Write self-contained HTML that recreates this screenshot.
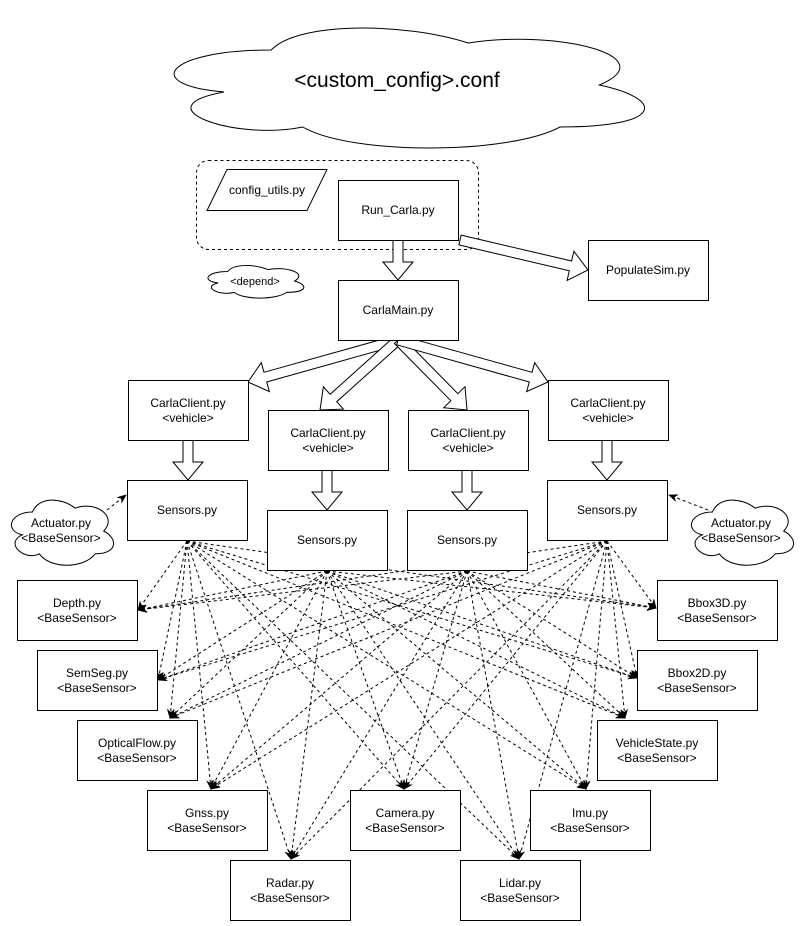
<!DOCTYPE html>
<html><head><meta charset="utf-8"><style>
html,body{margin:0;padding:0;background:#fff;}
svg text{font-family:"Liberation Sans",Arial,sans-serif;font-size:12px;fill:#000;}
</style></head><body>
<svg id="s" width="801" height="921" viewBox="0 0 801 921" xmlns="http://www.w3.org/2000/svg">
<defs><marker id="ah" markerWidth="10" markerHeight="10" refX="9" refY="5" orient="auto" markerUnits="userSpaceOnUse"><path d="M0,1 L10,5 L0,9 L3,5 Z" fill="#000"/></marker></defs>
<g id="g"></g>
</svg>
<script>
var g=document.getElementById('g'),out='';
function cloud(x,y,w,h){var p=function(a,b){return (x+a*w)+','+(y+b*h);};
out+='<path d="M'+p(.25,.25)+' C'+p(.05,.25)+' '+p(0,.5)+' '+p(.16,.55)+' C'+p(0,.66)+' '+p(.18,.9)+' '+p(.31,.8)+' C'+p(.4,1)+' '+p(.7,1)+' '+p(.8,.8)+' C'+p(1,.8)+' '+p(1,.6)+' '+p(.875,.5)+' C'+p(1,.3)+' '+p(.8,.1)+' '+p(.625,.2)+' C'+p(.5,.05)+' '+p(.3,.05)+' '+p(.25,.25)+' Z" fill="#fff" stroke="#000" stroke-width="1"/>';}
function box(x,y,w,h,t1,t2){out+='<rect x="'+(x+.5)+'" y="'+(y+.5)+'" width="'+w+'" height="'+h+'" fill="#fff" stroke="#000"/>';
if(t2){out+='<text x="'+(x+w/2)+'" y="'+(y+h/2-3)+'" text-anchor="middle">'+t1+'</text><text x="'+(x+w/2)+'" y="'+(y+h/2+12)+'" text-anchor="middle">'+t2+'</text>';}
else out+='<text x="'+(x+w/2)+'" y="'+(y+h/2+4)+'" text-anchor="middle">'+t1+'</text>';}
function barrow(x1,y1,x2,y2){var dx=x2-x1,dy=y2-y1,L=Math.sqrt(dx*dx+dy*dy),ux=dx/L,uy=dy/L,nx=-uy,ny=ux,sw=5,hw=15,hl=18;
var bx=x2-ux*hl,by=y2-uy*hl;var pts=[[x1+nx*sw,y1+ny*sw],[bx+nx*sw,by+ny*sw],[bx+nx*hw,by+ny*hw],[x2,y2],[bx-nx*hw,by-ny*hw],[bx-nx*sw,by-ny*sw],[x1-nx*sw,y1-ny*sw]];
out+='<polygon points="'+pts.map(function(q){return q[0].toFixed(1)+','+q[1].toFixed(1)}).join(' ')+'" fill="#fff" stroke="#000"/>';}
function dash(x1,y1,x2,y2){out+='<line x1="'+x1+'" y1="'+y1+'" x2="'+x2+'" y2="'+y2+'" stroke="#000" stroke-dasharray="3,3" marker-end="url(#ah)"/>';}

cloud(140,15,525,140);
out+='<text x="397" y="87" text-anchor="middle" style="font-size:21px">&lt;custom_config&gt;.conf</text>';
out+='<rect x="196.5" y="160.5" width="282" height="89" rx="12" fill="none" stroke="#000" stroke-dasharray="3,3"/>';
out+='<polygon points="227,169.5 327,169.5 307,210.5 207,210.5" fill="#fff" stroke="#000"/><text x="267" y="194" text-anchor="middle">config_utils.py</text>';
cloud(201,262,107,38);out+='<text x="255" y="285" text-anchor="middle" style="font-size:11px">&lt;depend&gt;</text>';

barrow(398,240,398,280);
barrow(460,240,588,270);
barrow(398,340,248,382);
barrow(398,340,320,410);
barrow(398,340,467,410);
barrow(398,340,548,382);
barrow(188,440,188,480);barrow(327,470,327,510);barrow(467,470,467,510);barrow(607,440,607,480);

box(338,180,120,60,'Run_Carla.py');
box(588,240,120,60,'PopulateSim.py');
box(338,280,120,60,'CarlaMain.py');
box(128,380,120,60,'CarlaClient.py','&lt;vehicle&gt;');
box(268,410,120,60,'CarlaClient.py','&lt;vehicle&gt;');
box(408,410,120,60,'CarlaClient.py','&lt;vehicle&gt;');
box(548,380,120,60,'CarlaClient.py','&lt;vehicle&gt;');

var src=[[187,541],[327,571],[467,571],[607,541]];
var tg=[[138,610],[158,680],[170,718],[211,789],[291,859],[404,789],[519,859],[586,789],[625,718],[637,678],[656,608]];
src.forEach(function(s){tg.forEach(function(t){dash(s[0],s[1],t[0],t[1]);});});
cloud(4,493,114,76);out+='<text x="61" y="527" text-anchor="middle">Actuator.py</text><text x="61" y="542" text-anchor="middle">&lt;BaseSensor&gt;</text>';
cloud(684,493,114,76);out+='<text x="741" y="527" text-anchor="middle">Actuator.py</text><text x="741" y="542" text-anchor="middle">&lt;BaseSensor&gt;</text>';
dash(107,510,126,495);dash(708,510,669,495);

box(127,480,120,60,'Sensors.py');box(267,510,120,60,'Sensors.py');box(407,510,120,60,'Sensors.py');box(547,480,120,60,'Sensors.py');
box(17,580,120,60,'Depth.py','&lt;BaseSensor&gt;');
box(37,650,120,60,'SemSeg.py','&lt;BaseSensor&gt;');
box(77,720,120,60,'OpticalFlow.py','&lt;BaseSensor&gt;');
box(147,790,120,60,'Gnss.py','&lt;BaseSensor&gt;');
box(230,860,120,60,'Radar.py','&lt;BaseSensor&gt;');
box(350,790,110,60,'Camera.py','&lt;BaseSensor&gt;');
box(460,860,120,60,'Lidar.py','&lt;BaseSensor&gt;');
box(530,790,120,60,'Imu.py','&lt;BaseSensor&gt;');
box(597,720,120,60,'VehicleState.py','&lt;BaseSensor&gt;');
box(637,650,120,60,'Bbox2D.py','&lt;BaseSensor&gt;');
box(657,580,120,60,'Bbox3D.py','&lt;BaseSensor&gt;');
g.innerHTML=out;
</script>
</body></html>
